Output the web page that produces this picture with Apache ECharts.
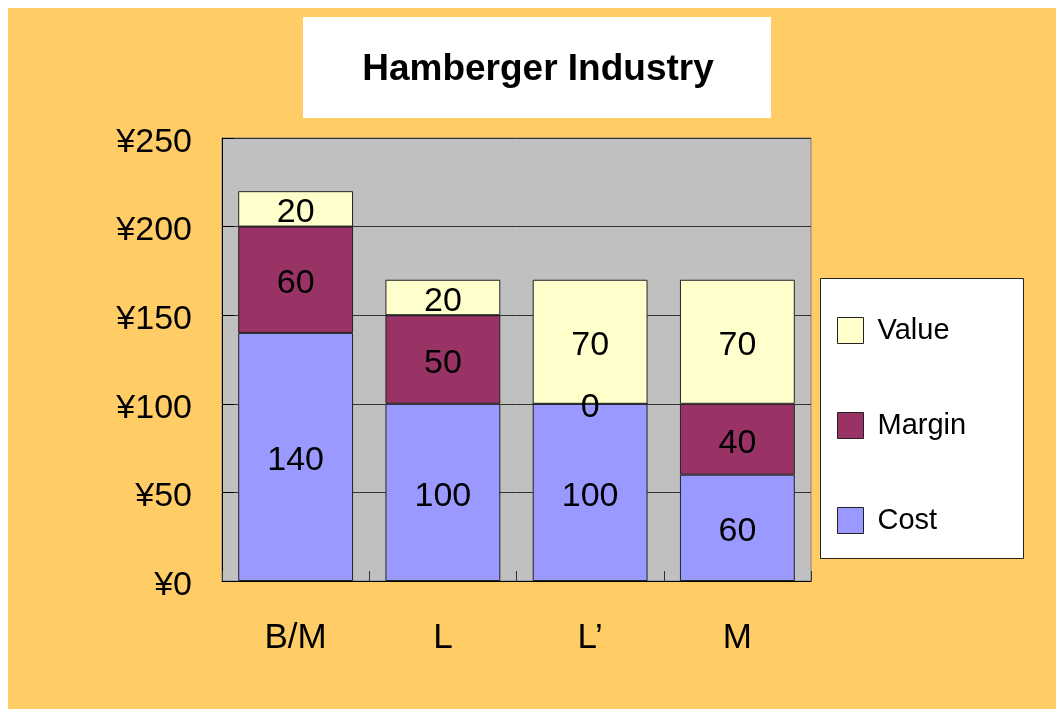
<!DOCTYPE html>
<html><head><meta charset="utf-8">
<script src="https://cdn.jsdelivr.net/npm/echarts@6/dist/echarts.min.js"></script>
<style>html,body{margin:0;padding:0;background:#fff;}#c{width:1056px;height:709px;}</style>
</head><body><div id="c"></div>
<script>
const categories = ['B/M', 'L', 'L’', 'M'];
const cost = [140, 100, 100, 60];
const margin = [60, 50, 0, 40];
const value = [20, 20, 70, 70];
const yTicks = [0, 50, 100, 150, 200, 250];
const legendOrder = ['Value', 'Margin', 'Cost'];

const font = '"Liberation Sans", Arial, sans-serif';
const chart = echarts.init(document.getElementById('c'));
const lbl = {show: true, position: 'inside', offset: [0, 4], color: '#000', fontSize: 34, fontFamily: font};
const mk = (name, data, color) => ({
  name, type: 'bar', stack: 'a', data, barWidth: '78%',
  itemStyle: {color, borderColor: '#222', borderWidth: 1},
  label: lbl, emphasis: {disabled: true}
});
chart.setOption({
  animation: false,
  backgroundColor: '#fff',
  graphic: [
    {type: 'rect', shape: {x: 8, y: 8, width: 1048, height: 701}, style: {fill: '#FFCC66'}, z: -10},
    {type: 'rect', shape: {x: 303, y: 17, width: 468, height: 101}, style: {fill: '#fff'}, z: -5},
    {type: 'rect', shape: {x: 820.5, y: 278.5, width: 203, height: 280}, style: {fill: '#fff', stroke: '#222', lineWidth: 1}, z: -5}
  ],
  title: {
    text: 'Hamberger Industry', left: 533, top: 46, textAlign: 'center',
    textStyle: {fontSize: 37, fontWeight: 'bold', color: '#000', fontFamily: font}
  },
  legend: {
    data: legendOrder, orient: 'vertical', left: 837, top: 316, padding: 0,
    itemWidth: 26, itemHeight: 26, itemGap: 66,
    icon: 'rect',
    itemStyle: {borderColor: '#222', borderWidth: 1},
    textStyle: {fontSize: 29, color: '#000', fontFamily: font, padding: [2, 0, 0, 9]}
  },
  grid: {left: 222, top: 138, width: 589, height: 443, show: true, backgroundColor: '#C0C0C0', borderColor: '#808080', borderWidth: 1},
  xAxis: {
    type: 'category', data: categories,
    axisLine: {lineStyle: {color: '#000', width: 1}},
    axisTick: {show: true, inside: true, length: 10, lineStyle: {color: '#333'}},
    axisLabel: {fontSize: 35, color: '#000', fontFamily: font, margin: 40}
  },
  yAxis: {
    type: 'value', min: yTicks[0], max: yTicks[yTicks.length - 1], interval: 50,
    axisLine: {show: true, lineStyle: {color: '#000', width: 1}},
    axisTick: {show: true, inside: true, length: 12, lineStyle: {color: '#000'}},
    splitLine: {lineStyle: {color: '#333', width: 1}},
    axisLabel: {
      fontSize: 34, color: '#000', fontFamily: font, margin: 30,
      formatter: v => '{a|¥' + v + '}',
      rich: {a: {fontSize: 34, color: '#000', fontFamily: font, padding: [9, 0, 0, 0]}}
    }
  },
  series: [
    mk('Cost', cost, '#9999FF'),
    mk('Margin', margin, '#993366'),
    mk('Value', value, '#FFFFCC')
  ]
});
</script></body></html>
